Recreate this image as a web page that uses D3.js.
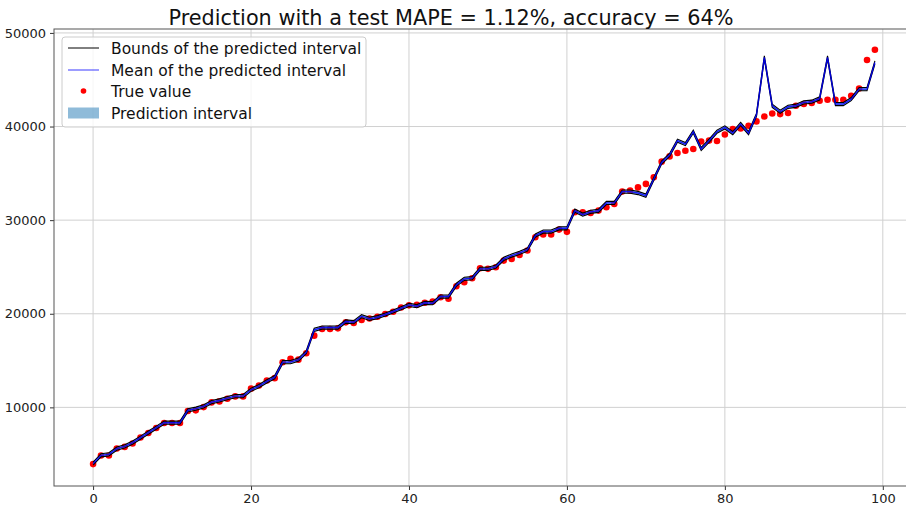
<!DOCTYPE html>
<html>
<head>
<meta charset="utf-8">
<script src="https://cdn.jsdelivr.net/npm/d3@7"></script>
<style>
  html, body { margin: 0; padding: 0; background: #fff; }
  svg { display: block; font-family: "DejaVu Sans", sans-serif; }
</style>
</head>
<body>
<svg id="chart" width="906" height="507"></svg>
<script>
// Lower and upper bounds of the predicted interval, per test index
const lowerBound = [
  3820,4710,4810,5420,5670,6060,6590,7130,7660,8190,
  8190,8190,9510,9690,9930,10390,10570,10820,11030,11030,
  11710,12100,12600,13060,14660,14660,14920,15730,18120,18360,
  18360,18360,19000,18930,19570,19290,19460,19750,20070,20420,
  20780,20640,21000,20960,21670,21670,22920,23560,23630,24630,
  24630,24870,25690,26050,26330,26690,28180,28610,28610,28960,
  28960,30850,30420,30720,30830,31670,31670,32880,32880,32730,
  32450,34230,36000,36790,38320,37960,39280,37430,38320,39280,
  39740,39130,40100,39130,41060,47210,42050,41410,41940,42050,
  42410,42480,42830,47210,42230,42230,42760,43830,43830,46670
];
const upperBound = [
  4160,5050,5150,5760,6010,6400,6930,7470,8000,8530,
  8530,8530,9850,10030,10270,10730,10910,11160,11370,11370,
  12050,12440,12940,13400,15000,15000,15260,16070,18460,18700,
  18700,18700,19340,19270,19910,19630,19800,20090,20410,20760,
  21120,20980,21340,21300,22010,22010,23260,23900,23970,24970,
  24970,25210,26030,26390,26670,27030,28520,28950,28950,29300,
  29300,31190,30760,31060,31170,32010,32010,33220,33220,33070,
  32790,34570,36340,37130,38660,38300,39620,37770,38660,39620,
  40080,39470,40440,39470,41400,47550,42390,41750,42280,42390,
  42750,42820,43170,47550,42570,42570,43100,44170,44170,47010
];
// Mean of the predicted interval
const meanPrediction = [
  3990,4880,4980,5590,5840,6230,6760,7300,7830,8360,
  8360,8360,9680,9860,10100,10560,10740,10990,11200,11200,
  11880,12270,12770,13230,14830,14830,15090,15900,18290,18530,
  18530,18530,19170,19100,19740,19460,19630,19920,20240,20590,
  20950,20810,21170,21130,21840,21840,23090,23730,23800,24800,
  24800,25040,25860,26220,26500,26860,28350,28780,28780,29130,
  29130,31020,30590,30890,31000,31840,31840,33050,33050,32900,
  32620,34400,36170,36960,38490,38130,39450,37600,38490,39450,
  39910,39300,40270,39300,41230,47380,42220,41580,42110,42220,
  42580,42650,43000,47380,42400,42400,42930,44000,44000,46840
];
// Observed (true) values
const trueValues = [
  3940,4860,4860,5600,5780,6140,6780,7270,7800,8330,
  8330,8330,9610,9680,10030,10530,10640,10920,11170,11170,
  12000,12340,12870,13120,14820,15180,15100,15780,17660,18370,
  18370,18440,19080,19010,19330,19500,19680,19970,20210,20670,
  20900,20950,21170,21310,21770,21600,22940,23370,23800,24860,
  24800,24970,25680,25860,26290,26750,28170,28460,28460,28990,
  28750,30840,30840,30770,31020,31370,31730,33050,33150,33500,
  33870,34570,36250,36810,37170,37420,37600,38400,38500,38450,
  39150,39730,39800,40090,40550,41080,41400,41330,41440,42220,
  42400,42510,42750,42860,42860,42860,43290,44070,47100,48200
];
const xTicks = [0, 20, 40, 60, 80, 100];
const yTicks = [10000, 20000, 30000, 40000, 50000];
const titleText = "Prediction with a test MAPE = 1.12%, accuracy = 64%";
const legendLabels = [
  "Bounds of the predicted interval",
  "Mean of the predicted interval",
  "True value",
  "Prediction interval"
];

const svg = d3.select("#chart");
const plot = { left: 54, right: 914, top: 29, bottom: 486 };

const n = trueValues.length;
const idx = d3.range(n);
const allVals = lowerBound.concat(upperBound, trueValues);
const yMin = d3.min(allVals), yMax = d3.max(allVals);
const pad = (yMax - yMin) * 0.05;

const x = d3.scaleLinear().domain([-(n - 1) * 0.05, (n - 1) * 1.05]).range([plot.left, plot.right]);
const y = d3.scaleLinear().domain([yMin - pad, yMax + pad]).range([plot.bottom, plot.top]);

// clip region for the plotting area
svg.append("defs").append("clipPath").attr("id", "clip")
  .append("rect").attr("x", plot.left).attr("y", plot.top)
  .attr("width", plot.right - plot.left).attr("height", plot.bottom - plot.top);

// grid
const grid = svg.append("g").attr("clip-path", "url(#clip)");
grid.selectAll("line.gx").data(xTicks).join("line")
  .attr("x1", d => x(d)).attr("x2", d => x(d))
  .attr("y1", plot.top).attr("y2", plot.bottom)
  .attr("stroke", "#d0d0d0").attr("stroke-width", 1);
grid.selectAll("line.gy").data(yTicks).join("line")
  .attr("y1", d => y(d)).attr("y2", d => y(d))
  .attr("x1", plot.left).attr("x2", plot.right)
  .attr("stroke", "#d0d0d0").attr("stroke-width", 1);

const g = svg.append("g").attr("clip-path", "url(#clip)");

// true values
g.selectAll("circle").data(idx).join("circle")
  .attr("cx", i => x(i)).attr("cy", i => y(trueValues[i]))
  .attr("r", 3.3).attr("fill", "#ff0000");

// prediction interval band
const area = d3.area().x(i => x(i)).y0(i => y(lowerBound[i])).y1(i => y(upperBound[i]));
g.append("path").datum(idx).attr("d", area)
  .attr("fill", "#1f77b4").attr("fill-opacity", 0.5);

const lineOf = arr => d3.line().x(i => x(i)).y(i => y(arr[i]));
g.append("path").datum(idx).attr("d", lineOf(lowerBound))
  .attr("fill", "none").attr("stroke", "#000").attr("stroke-width", 1.1);
g.append("path").datum(idx).attr("d", lineOf(upperBound))
  .attr("fill", "none").attr("stroke", "#000").attr("stroke-width", 1.1);
g.append("path").datum(idx).attr("d", lineOf(meanPrediction))
  .attr("fill", "none").attr("stroke", "#0000ff").attr("stroke-width", 1.4).attr("stroke-opacity", 0.85);

// axes
const xAxis = d3.axisBottom(x).tickValues(xTicks).tickSize(4).tickPadding(4).tickFormat(d3.format("d"));
const yAxis = d3.axisLeft(y).tickValues(yTicks).tickSize(4).tickPadding(4).tickFormat(d3.format("d"));

const gx = svg.append("g").attr("transform", `translate(0,${plot.bottom})`).call(xAxis);
const gy = svg.append("g").attr("transform", `translate(${plot.left},0)`).call(yAxis);
[gx, gy].forEach(a => {
  a.select(".domain").remove();
  a.selectAll(".tick line").attr("stroke", "#333");
  a.selectAll(".tick text").attr("fill", "#222").style("font-size", "13px")
    .style("font-family", "'DejaVu Sans', sans-serif");
});

// frame
svg.append("rect").attr("x", plot.left).attr("y", plot.top)
  .attr("width", plot.right - plot.left).attr("height", plot.bottom - plot.top)
  .attr("fill", "none").attr("stroke", "#555").attr("stroke-width", 1);

// title
svg.append("text").attr("x", 451).attr("y", 25).attr("text-anchor", "middle")
  .style("font-size", "20.8px").attr("fill", "#111").text(titleText);

// legend
const lg = svg.append("g");
lg.append("rect").attr("x", 62).attr("y", 37).attr("width", 304).attr("height", 90)
  .attr("rx", 3).attr("fill", "#fff").attr("fill-opacity", 0.8).attr("stroke", "#cccccc");
const rowY = [48, 70, 91, 113];
lg.append("line").attr("x1", 68).attr("x2", 99).attr("y1", rowY[0]).attr("y2", rowY[0])
  .attr("stroke", "#000").attr("stroke-width", 1);
lg.append("line").attr("x1", 68).attr("x2", 99).attr("y1", rowY[1]).attr("y2", rowY[1])
  .attr("stroke", "#0000ff").attr("stroke-opacity", 0.6).attr("stroke-width", 1.3);
lg.append("circle").attr("cx", 83.5).attr("cy", rowY[2]).attr("r", 2.8).attr("fill", "#ff0000");
lg.append("rect").attr("x", 68).attr("y", rowY[3] - 5.5).attr("width", 31).attr("height", 11)
  .attr("fill", "#1f77b4").attr("fill-opacity", 0.5);
lg.selectAll("text.lab").data(legendLabels).join("text")
  .attr("x", 111).attr("y", (d, i) => rowY[i] + 5.5)
  .style("font-size", "15.5px").attr("fill", "#111").text(d => d);
</script>
</body>
</html>
